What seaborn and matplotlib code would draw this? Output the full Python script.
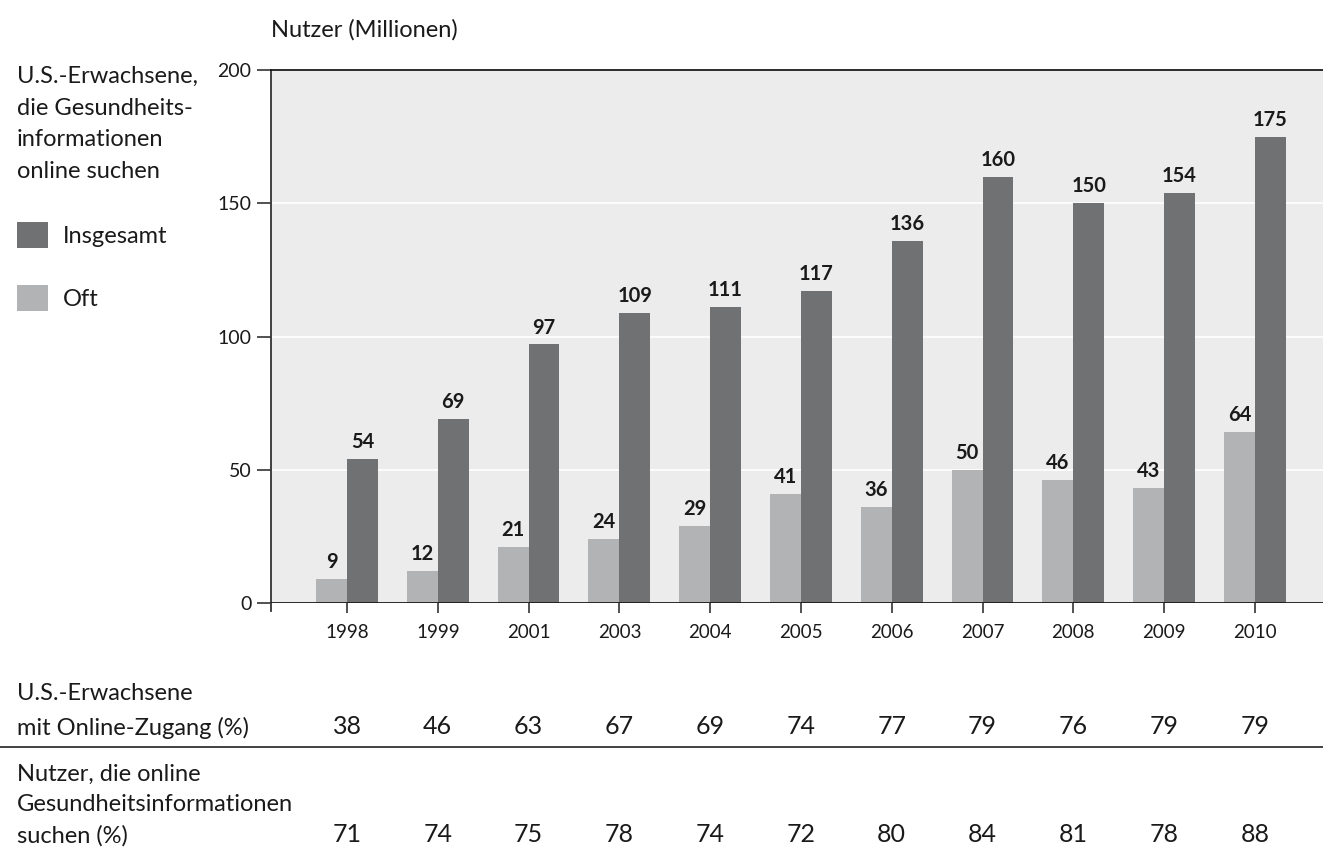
import matplotlib
matplotlib.use("Agg")
import matplotlib.pyplot as plt
import seaborn as sns
import pandas as pd
from matplotlib.lines import Line2D
from matplotlib.patches import Patch

# Data
years = ["1998", "1999", "2001", "2003", "2004", "2005", "2006", "2007", "2008", "2009", "2010"]
oft = [9, 12, 21, 24, 29, 41, 36, 50, 46, 43, 64]
insgesamt = [54, 69, 97, 109, 111, 117, 136, 160, 150, 154, 175]
online_zugang = [38, 46, 63, 67, 69, 74, 77, 79, 76, 79, 79]
gesundheit_suche = [71, 74, 75, 78, 74, 72, 80, 84, 81, 78, 88]

series_names = ["Oft", "Insgesamt"]
colors = {"Oft": "#b2b3b5", "Insgesamt": "#707173"}

df = pd.DataFrame({
    "Jahr": years * 2,
    "Serie": ["Oft"] * len(years) + ["Insgesamt"] * len(years),
    "Wert": oft + insgesamt,
})

sns.set_theme(style="white")
plt.rcParams["font.family"] = ["Lato", "DejaVu Sans"]
text_color = "#1a1a1a"

W, H = 1323, 850
fig = plt.figure(figsize=(W / 100, H / 100), dpi=100)
ax = fig.add_axes([271 / W, 1 - 603 / H, 1 - 271 / W, (603 - 70) / H])
ax.set_facecolor("#ebeceb")

sns.barplot(data=df, x="Jahr", y="Wert", hue="Serie", hue_order=series_names,
            palette=colors, width=0.68, saturation=1, ax=ax, legend=False,
            edgecolor="none")

ax.set_xlim(-0.837, 10.75)
ax.set_ylim(0, 200)
ax.set_yticks([0, 50, 100, 150, 200])
ax.yaxis.grid(True, color="white", linewidth=1.2)
ax.set_axisbelow(True)
ax.set_xlabel("")
ax.set_ylabel("")

for side in ["right", "bottom"]:
    ax.spines[side].set_visible(False)
ax.spines["top"].set_color("#1a1a1a")
ax.spines["top"].set_linewidth(1.3)
ax.spines["left"].set_color("#333333")
ax.spines["left"].set_linewidth(1.3)
ax.spines["left"].set_bounds(-3, 200)
ax.axhline(0, color="#1a1a1a", linewidth=1.3, zorder=5)

ax.tick_params(axis="y", direction="out", length=10, width=1.2, color="#333333",
               labelsize=14, labelcolor=text_color, pad=4, left=True)
ax.tick_params(axis="x", direction="out", length=7, width=1.2, color="#333333",
               labelsize=13.5, labelcolor=text_color, pad=8, bottom=True)

# Value labels above bars
for container in ax.containers:
    ax.bar_label(container, fmt="%d", padding=5, fontsize=14.5,
                 fontweight="bold", color=text_color)

# Axis title
fig.text(271 / W, 1 - 30 / H, "Nutzer (Millionen)", fontsize=17,
         color=text_color, ha="left", va="center")

# Legend block
fig.text(17 / W, 1 - 66 / H,
         "U.S.-Erwachsene,\ndie Gesundheits-\ninformationen\nonline suchen",
         fontsize=17, color=text_color, ha="left", va="top", linespacing=1.63)
handles = [Patch(facecolor=colors["Insgesamt"], edgecolor="none"),
           Patch(facecolor=colors["Oft"], edgecolor="none")]
fig.legend(handles, ["Insgesamt", "Oft"], loc="upper left",
           bbox_to_anchor=(17 / W, 1 - 222 / H), frameon=False,
           fontsize=17, handlelength=1.31, handleheight=1.31,
           handletextpad=0.64, labelspacing=1.57, labelcolor=text_color,
           borderaxespad=0, borderpad=0)

# Table rows below the chart
row_label_x = 17 / W
fig.text(row_label_x, 1 - 711 / H, "U.S.-Erwachsene\nmit Online-Zugang (%)",
         fontsize=17, color=text_color, ha="left", va="center", linespacing=1.7)
fig.text(row_label_x, 1 - 805 / H,
         "Nutzer, die online\nGesundheitsinformationen\nsuchen (%)",
         fontsize=17, color=text_color, ha="left", va="center", linespacing=1.55)

trans_rows = matplotlib.transforms.blended_transform_factory(ax.transData, fig.transFigure)
for i, v in enumerate(online_zugang):
    fig.text(i, 1 - 727 / H, f"{v}", transform=trans_rows, fontsize=18,
             color=text_color, ha="center", va="center")
for i, v in enumerate(gesundheit_suche):
    fig.text(i, 1 - 834 / H, f"{v}", transform=trans_rows, fontsize=18,
             color=text_color, ha="center", va="center")

fig.add_artist(Line2D([0, 1], [1 - 747 / H, 1 - 747 / H],
                      transform=fig.transFigure, color="#333333", linewidth=1.3))

fig.savefig("out.png", dpi=100, facecolor="white")
